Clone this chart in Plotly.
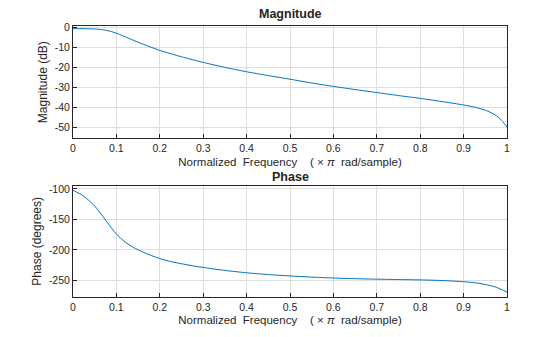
import plotly.graph_objects as go

freq_mag = [0, 0.025, 0.05, 0.07, 0.085, 0.1, 0.115, 0.13, 0.15, 0.175, 0.2, 0.25, 0.3, 0.35, 0.4, 0.45,
            0.5, 0.55, 0.6, 0.65, 0.7, 0.75, 0.8, 0.85, 0.9, 0.925, 0.95, 0.97, 0.98, 0.99, 1.0]
mag_db = [-0.7, -0.75, -0.9, -1.3, -2.0, -3.0, -4.3, -5.7, -7.5, -9.6, -11.6, -14.8, -17.6, -20.1, -22.3, -24.2,
          -26.0, -27.9, -29.6, -31.2, -32.7, -34.2, -35.6, -37.2, -38.9, -40.0, -41.5, -43.5, -45.0, -47.2, -50.0]

freq_ph = [0, 0.025, 0.05, 0.075, 0.1, 0.12, 0.14, 0.16, 0.18, 0.2, 0.225, 0.25, 0.275, 0.3, 0.35, 0.4, 0.45,
           0.5, 0.55, 0.6, 0.65, 0.7, 0.75, 0.8, 0.85, 0.9, 0.925, 0.95, 0.975, 1.0]
phase_deg = [-102, -112, -128, -151, -174, -187, -196, -203, -209, -214, -219, -222.5, -225.8, -228.6, -233.5,
             -237.3, -240.2, -242.5, -244.4, -245.9, -247, -247.8, -248.4, -249, -250, -252, -253.5, -256.5,
             -261, -269]

x_ticks = [0, 0.1, 0.2, 0.3, 0.4, 0.5, 0.6, 0.7, 0.8, 0.9, 1]
x_tick_text = ["0", "0.1", "0.2", "0.3", "0.4", "0.5", "0.6", "0.7", "0.8", "0.9", "1"]
mag_ticks = [0, -10, -20, -30, -40, -50]
mag_tick_text = ["0", "-10", "-20", "-30", "-40", "-50"]
ph_ticks = [-100, -150, -200, -250]
ph_tick_text = ["-100", "-150", "-200", "-250"]

blue = "#0072BD"
ink = "#262626"
font = "Liberation Sans, Arial, sans-serif"
nb = "\u00a0"
xlabel = f"Normalized{nb}{nb}Frequency{nb}{nb}{nb}{nb}({nb}×{nb}<i>π</i>{nb}{nb}rad/sample)"

fig = go.Figure()
fig.add_trace(go.Scatter(x=freq_mag, y=mag_db, mode="lines", line=dict(color=blue, width=1, shape="spline", smoothing=0.7),
                         xaxis="x", yaxis="y", showlegend=False))
fig.add_trace(go.Scatter(x=freq_ph, y=phase_deg, mode="lines", line=dict(color=blue, width=1, shape="spline", smoothing=0.7),
                         xaxis="x2", yaxis="y2", showlegend=False))

axcommon = dict(showline=True, linecolor=ink, linewidth=1, mirror=True, ticks="inside", ticklen=4,
                tickcolor=ink, showgrid=True, gridcolor="#dedede", gridwidth=1, zeroline=False,
                tickfont=dict(family=font, size=10.5, color=ink))
tfont = dict(family=font, size=11.5, color=ink)
yfont = dict(family=font, size=12, color=ink)

fig.update_layout(
    width=560, height=337, paper_bgcolor="white", plot_bgcolor="white",
    margin=dict(l=73, r=53, t=26, b=38),
    font=dict(family=font, size=10, color=ink),
    xaxis=dict(domain=[0, 1], anchor="y", range=[0, 1], tickvals=x_ticks, ticktext=x_tick_text,
               title=dict(text=xlabel, font=tfont, standoff=4), **axcommon),
    yaxis=dict(domain=[0.5854, 1], anchor="x", range=[-55.6, 0.6], tickvals=mag_ticks, ticktext=mag_tick_text,
               title=dict(text="Magnitude (dB)", font=yfont, standoff=4), **axcommon),
    xaxis2=dict(domain=[0, 1], anchor="y2", range=[0, 1], tickvals=x_ticks, ticktext=x_tick_text,
                title=dict(text=xlabel, font=tfont, standoff=4), **axcommon),
    yaxis2=dict(domain=[0, 0.4109], anchor="x2", range=[-277, -94.6], tickvals=ph_ticks, ticktext=ph_tick_text,
                title=dict(text="Phase (degrees)", font=yfont, standoff=4), **axcommon),
    annotations=[
        dict(text="<b>Magnitude</b>", x=0.5, y=1, xref="paper", yref="paper", xanchor="center", yanchor="bottom",
             yshift=3, showarrow=False, font=dict(family=font, size=12.5, color=ink)),
        dict(text="<b>Phase</b>", x=0.5, y=0.4109, xref="paper", yref="paper", xanchor="center", yanchor="bottom",
             yshift=0, showarrow=False, font=dict(family=font, size=12.5, color=ink)),
    ],
)

fig.write_html("out.html")
